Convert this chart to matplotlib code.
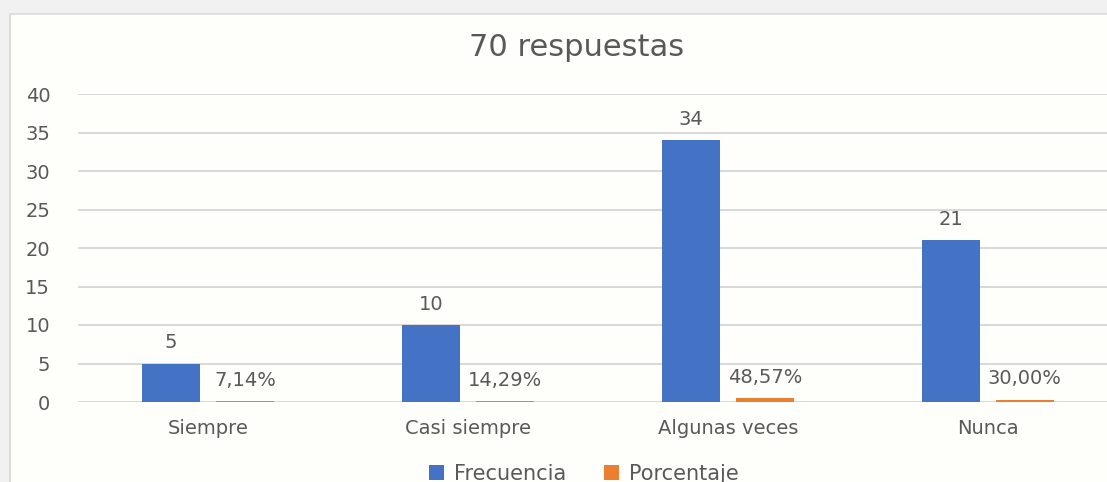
import matplotlib
matplotlib.use("Agg")
import matplotlib.pyplot as plt
import numpy as np
from matplotlib.patches import Rectangle

categories = ["Siempre", "Casi siempre", "Algunas veces", "Nunca"]
frecuencia = [5, 10, 34, 21]
porcentaje = [0.0714, 0.1429, 0.4857, 0.30]
porcentaje_labels = ["7,14%", "14,29%", "48,57%", "30,00%"]
title = "70 respuestas"
yticks = [0, 5, 10, 15, 20, 25, 30, 35, 40]

plt.rcParams['font.family'] = ['DejaVu Sans']
text_color = "#595959"
blue = "#4472C4"
orange = "#ED7D31"
bg = "#FEFEFA"

W, H = 1107, 482
fig = plt.figure(figsize=(W / 100, H / 100), dpi=100)
fig.patch.set_facecolor("#F1F1F1")
# inner chart area
fig.patches.append(Rectangle((10 / W, -0.01), 1.0, 1.01 - 14 / H, transform=fig.transFigure,
                             facecolor=bg, edgecolor="#DADADA", linewidth=1.2, zorder=-5))

ax = fig.add_axes([78 / W, 1 - 402 / H, 1040 / W, 308 / H])
ax.set_zorder(2)
ax.set_facecolor("none")
x = np.arange(len(categories))
off = 0.142
w = 0.225
b1 = ax.bar(x - off, frecuencia, w, color=blue, label="Frecuencia", zorder=3)
b2 = ax.bar(x + off, porcentaje, w, color=orange, label="Porcentaje", zorder=3)

for xi, v in zip(x, frecuencia):
    ax.annotate(str(v), (xi - off, v), xytext=(0, 15), textcoords="offset points",
                ha="center", va="center", fontsize=14, color=text_color)
for xi, v, lab in zip(x, porcentaje, porcentaje_labels):
    ax.annotate(lab, (xi + off, v), xytext=(0, 15), textcoords="offset points",
                ha="center", va="center", fontsize=14, color=text_color)

ax.set_xlim(-0.5, 3.5)
ax.set_ylim(0, 40)
ax.set_yticks(yticks)
ax.set_xticks(x)
ax.set_xticklabels(categories)
ax.grid(axis="y", color="#D6D6D6", linewidth=1.3, zorder=0)
ax.set_axisbelow(True)
for s in ax.spines.values():
    s.set_visible(False)
ax.tick_params(axis="both", length=0, labelsize=14, labelcolor=text_color)
ax.tick_params(axis="y", pad=20)
ax.tick_params(axis="x", pad=12)

fig.text(577 / W, 1 - 47 / H, title, ha="center", va="center", fontsize=22, color=text_color)

leg = fig.legend(handles=[b1, b2], loc="center", bbox_to_anchor=(584 / W, 1 - 474 / H), ncol=2,
                 frameon=False, fontsize=15, labelcolor=text_color, handlelength=0.7, handleheight=0.7,
                 handletextpad=0.5, columnspacing=1.8)
leg.set_zorder(3)

fig.savefig("out.png", dpi=100, facecolor=fig.get_facecolor())
